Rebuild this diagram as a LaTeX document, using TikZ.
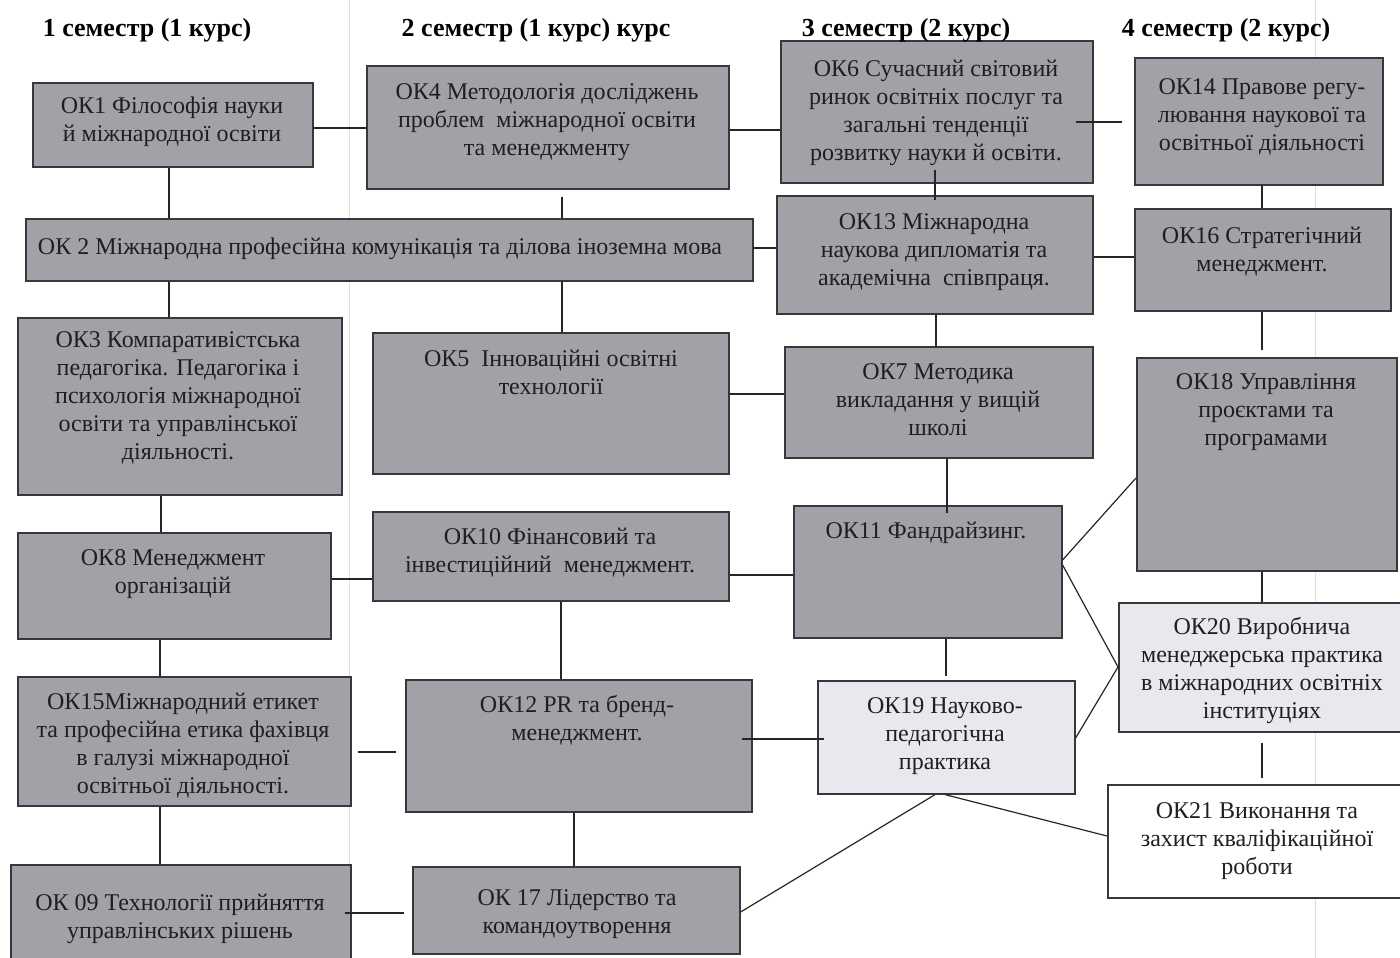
\documentclass[tikz,border=0pt]{standalone}
\usepackage{fontspec}
\setmainfont{Liberation Serif}
\usetikzlibrary{calc}
\definecolor{boxgray}{RGB}{163,161,168}
\definecolor{boxlight}{RGB}{234,232,239}
\definecolor{boxedge}{RGB}{55,55,60}
\definecolor{txtc}{RGB}{32,30,34}
\definecolor{faint}{RGB}{222,222,226}
\tikzset{
 okbox/.style={draw=boxedge, line width=1.6pt, fill=boxgray, inner sep=0pt},
 lightbox/.style={okbox, fill=boxlight},
 whitebox/.style={okbox, fill=white},
 oktext/.style={align=center, text=txtc, font=\fontsize{24}{28}\selectfont, inner sep=0pt, yshift=-2pt},
 head/.style={text=black, font=\fontsize{26}{30}\selectfont\bfseries, inner sep=0pt, yshift=-3pt},
 link/.style={draw=black!85, line width=1.2pt},
 guide/.style={draw=faint, line width=1pt}
}
\newcommand\okrect[6]{\node[#6, minimum width={#4-#2}, minimum height={#5-#3}, anchor=north west] (#1) at (#2,#3) {};}
\begin{document}
\begin{tikzpicture}[x=1pt,y=-1pt]
\useasboundingbox (0,0) rectangle (1400,958);
\clip (0,0) rectangle (1400,958);
\fill[white] (0,0) rectangle (1400,958);
% faint guide lines
\draw[guide] (349,0) -- (349,958);
\draw[guide] (1315,0) -- (1315,958);
% boxes
\okrect{ok1}{32}{82}{312}{166}{okbox}
\okrect{ok4}{366}{65}{728}{188}{okbox}
\okrect{ok2}{25}{218}{752}{280}{okbox}
\okrect{ok6}{780}{40}{1092}{182}{okbox}
\okrect{ok14}{1134}{57}{1382}{184}{okbox}
\okrect{ok13}{776}{195}{1092}{313}{okbox}
\okrect{ok16}{1134}{208}{1390}{310}{okbox}
\okrect{ok3}{17}{317}{341}{494}{okbox}
\okrect{ok5}{372}{332}{728}{473}{okbox}
\okrect{ok7}{784}{346}{1092}{457}{okbox}
\okrect{ok18}{1136}{357}{1396}{570}{okbox}
\okrect{ok8}{17}{532}{330}{638}{okbox}
\okrect{ok10}{372}{511}{728}{600}{okbox}
\okrect{ok11}{793}{505}{1061}{637}{okbox}
\okrect{ok20}{1118}{602}{1420}{731}{lightbox}
\okrect{ok15}{17}{676}{350}{805}{okbox}
\okrect{ok12}{405}{679}{751}{811}{okbox}
\okrect{ok19}{817}{680}{1074}{793}{lightbox}
\okrect{ok21}{1107}{784}{1420}{897}{whitebox}
\okrect{ok09}{10}{864}{350}{975}{okbox}
\okrect{ok17}{412}{866}{739}{953}{okbox}
% texts
\node[oktext] (ok1t) at (172,120) {ОК1 Філософія науки\\й міжнародної освіти};
\node[oktext] (ok4t) at (547,120) {ОК4 Методологія досліджень\\проблем\ \ міжнародної освіти\\та менеджменту};
\node[oktext] (ok2t) at (380,247) {ОК 2 Міжнародна професійна комунікація та ділова іноземна мова};
\node[oktext] (ok6t) at (936,111) {ОК6 Сучасний світовий\\ринок освітніх послуг та\\загальні тенденції\\розвитку науки й освіти.};
\node[oktext] (ok14t) at (1262,115) {ОК14 Правове регу-\\лювання наукової та\\освітньої діяльності};
\node[oktext] (ok13t) at (934,250) {ОК13 Міжнародна\\наукова дипломатія та\\академічна\ \ співпраця.};
\node[oktext] (ok16t) at (1262,250) {ОК16 Стратегічний\\менеджмент.};
\node[oktext] (ok3t) at (178,396) {ОК3 Компаративістська\\педагогіка. Педагогіка і\\психологія міжнародної\\освіти та управлінської\\діяльності.};
\node[oktext] (ok5t) at (551,370) {ОК5\ \ Інноваційні освітні\\технології};
\node[oktext] (ok7t) at (938,398) {ОК7 Методика\\викладання у вищій\\школі};
\node[oktext] (ok18t) at (1266,410) {ОК18 Управління\\проєктами та\\програмами};
\node[oktext] (ok8t) at (173,572) {ОК8 Менеджмент\\організацій};
\node[oktext] (ok10t) at (550,551) {ОК10 Фінансовий та\\інвестиційний\ \ менеджмент.};
\node[oktext] (ok11t) at (926,531) {ОК11 Фандрайзинг.};
\node[oktext] (ok20t) at (1262,668) {ОК20 Виробнича\\менеджерська практика\\в міжнародних освітніх\\інституціях};
\node[oktext] (ok15t) at (183,744) {ОК15Міжнародний етикет\\та професійна етика фахівця\\в галузі міжнародної\\освітньої діяльності.};
\node[oktext] (ok12t) at (577,718) {ОК12 PR та бренд-\\менеджмент.};
\node[oktext] (ok19t) at (945,734) {ОК19 Науково-\\педагогічна\\практика};
\node[oktext] (ok21t) at (1257,839) {ОК21 Виконання та\\захист кваліфікаційної\\роботи};
\node[oktext] (ok09t) at (180,917) {ОК 09 Технології прийняття\\управлінських рішень};
\node[oktext] (ok17t) at (577,912) {ОК 17 Лідерство та\\командоутворення};
% connectors
\draw[link] (ok1.east |- 0,128) -- (ok4.west |- 0,128);
\draw[link] (ok4.east |- 0,130) -- (ok6.west |- 0,130);
\draw[link, shorten <=-18pt, shorten >=12pt] (ok6.east |- 0,122) -- (ok14.west |- 0,122);
\draw[link, shorten <=-14pt, shorten >=-5pt] (ok6.south -| 935,0) -- (ok13.north -| 935,0);
\draw[link] (ok1.south -| 169,0) -- (ok2.north -| 169,0);
\draw[link, shorten <=7pt] (ok4.south -| 562,0) -- (ok2.north -| 562,0);
\draw[link] (ok2.south -| 169,0) -- (ok3.north -| 169,0);
\draw[link] (ok2.south -| 562,0) -- (ok5.north -| 562,0);
\draw[link] (ok2.east |- 0,248) -- (ok13.west |- 0,248);
\draw[link] (ok13.east |- 0,257) -- (ok16.west |- 0,257);
\draw[link] (ok14.south -| 1262,0) -- (ok16.north -| 1262,0);
\draw[link] (ok13.south -| 936,0) -- (ok7.north -| 936,0);
\draw[link, shorten >=7pt] (ok16.south -| 1262,0) -- (ok18.north -| 1262,0);
\draw[link] (ok5.east |- 0,394) -- (ok7.west |- 0,394);
\draw[link, shorten >=-8pt] (ok7.south -| 947,0) -- (ok11.north -| 947,0);
\draw[link] (ok3.south -| 161,0) -- (ok8.north -| 161,0);
\draw[link] (ok8.east |- 0,579) -- (ok10.west |- 0,579);
\draw[link] (ok10.east |- 0,575) -- (ok11.west |- 0,575);
\draw[link] (ok11.east |- 0,560) -- (ok18.west |- 0,478);
\coordinate (p20) at (ok20.west |- 0,667);
\draw[link] (ok11.east |- 0,565) -- (p20);
\draw[link] (ok19.east |- 0,738) -- (p20);
\draw[link] (ok18.south -| 1262,0) -- (ok20.north -| 1262,0);
\draw[link, shorten <=10pt, shorten >=6pt] (ok20.south -| 1262,0) -- (ok21.north -| 1262,0);
\draw[link, shorten >=4pt] (ok11.south -| 946,0) -- (ok19.north -| 946,0);
\draw[link, shorten <=-11pt, shorten >=-7pt] (ok12.east |- 0,739) -- (ok19.west |- 0,739);
\draw[link, shorten <=6pt, shorten >=9pt] (ok15.east |- 0,752) -- (ok12.west |- 0,752);
\draw[link] (ok15.south -| 160,0) -- (ok09.north -| 160,0);
\draw[link] (ok12.south -| 574,0) -- (ok17.north -| 574,0);
\draw[link, shorten <=-7pt, shorten >=8pt] (ok09.east |- 0,913) -- (ok17.west |- 0,913);
\draw[link] (ok8.south -| 160,0) -- (ok15.north -| 160,0);
\draw[link] (ok10.south -| 561,0) -- (ok12.north -| 561,0);
\draw[link] (ok17.east |- 0,912) -- (ok19.south -| 935,0);
\draw[link] (ok19.south -| 945,0) -- (ok21.west |- 0,836);
% headers
\node[head] (h1) at (147,27) {1 семестр (1 курс)};
\node[head] (h2) at (536,27) {2 семестр (1 курс) курс};
\node[head] (h3) at (906,27) {3 семестр (2 курс)};
\node[head] (h4) at (1226,27) {4 семестр (2 курс)};
\end{tikzpicture}
\end{document}
